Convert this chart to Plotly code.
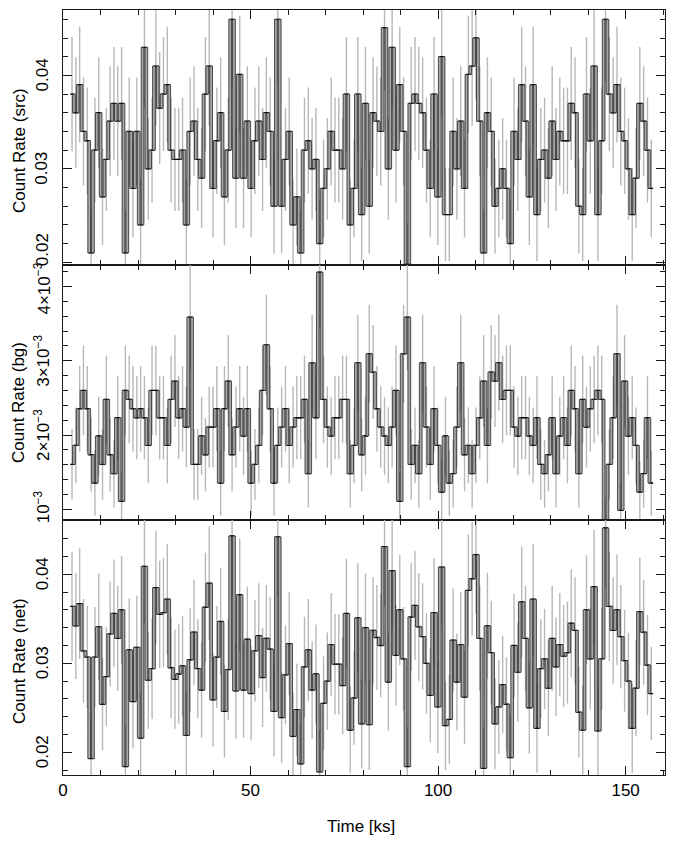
import numpy as np
import plotly.graph_objects as go
from plotly.subplots import make_subplots

# ---------------- data ----------------
t_start = 1.9        # ks, left edge of first bin
bin_width = 1.016    # ks
exposure = 1016.0    # s per bin
bg_area_scale = 7.0  # background extraction area / source area

src_rate = [
    0.0380, 0.0360, 0.0390, 0.0340, 0.0330, 0.0210, 0.0320, 0.0360, 0.0270, 0.0310,
    0.0351, 0.0370, 0.0351, 0.0370, 0.0210, 0.0340, 0.0279, 0.0340, 0.0240, 0.0430,
    0.0300, 0.0320, 0.0410, 0.0365, 0.0380, 0.0390, 0.0320, 0.0310, 0.0310, 0.0320,
    0.0240, 0.0340, 0.0351, 0.0310, 0.0290, 0.0380, 0.0410, 0.0279, 0.0330, 0.0360,
    0.0270, 0.0320, 0.0460, 0.0290, 0.0401, 0.0290, 0.0351, 0.0279, 0.0330, 0.0351,
    0.0310, 0.0360, 0.0340, 0.0260, 0.0460, 0.0260, 0.0310, 0.0340, 0.0240, 0.0270,
    0.0210, 0.0320, 0.0330, 0.0300, 0.0310, 0.0220, 0.0279, 0.0300, 0.0340, 0.0320,
    0.0320, 0.0300, 0.0380, 0.0240, 0.0279, 0.0380, 0.0251, 0.0370, 0.0260, 0.0360,
    0.0351, 0.0340, 0.0451, 0.0300, 0.0430, 0.0320, 0.0390, 0.0340, 0.0198, 0.0370,
    0.0380, 0.0370, 0.0360, 0.0320, 0.0279, 0.0380, 0.0270, 0.0420, 0.0251, 0.0251,
    0.0340, 0.0300, 0.0351, 0.0279, 0.0401, 0.0410, 0.0440, 0.0351, 0.0210, 0.0360,
    0.0340, 0.0260, 0.0279, 0.0300, 0.0279, 0.0220, 0.0340, 0.0310, 0.0390, 0.0351,
    0.0270, 0.0390, 0.0251, 0.0310, 0.0320, 0.0290, 0.0351, 0.0310, 0.0340, 0.0330,
    0.0330, 0.0370, 0.0360, 0.0260, 0.0251, 0.0380, 0.0330, 0.0410, 0.0251, 0.0330,
    0.0460, 0.0380, 0.0360, 0.0390, 0.0340, 0.0330, 0.0300, 0.0251, 0.0290, 0.0370,
    0.0351, 0.0320, 0.0279,
]

bg_rate_e3 = [  # background rate in units of 1e-3 counts/s
    1.605, 1.861, 2.354, 2.601, 2.354, 1.735, 1.354, 1.987, 1.605, 2.480,
    1.735, 1.480, 2.233, 1.108, 2.601, 2.480, 2.354, 2.233, 2.354, 2.233,
    1.861, 2.601, 2.601, 2.233, 2.233, 1.861, 2.480, 2.726, 2.233, 2.354,
    2.108, 3.587, 1.605, 1.605, 1.987, 1.735, 2.108, 2.108, 2.354, 1.354,
    2.354, 2.726, 1.735, 2.108, 2.354, 1.987, 2.354, 1.354, 1.605, 1.861,
    2.601, 3.215, 2.354, 1.354, 1.861, 2.108, 2.354, 1.861, 2.108, 2.233,
    2.233, 2.480, 1.480, 2.973, 2.233, 4.193, 2.480, 2.108, 1.987, 2.233,
    2.233, 2.480, 2.480, 1.480, 1.861, 2.973, 1.735, 1.987, 3.094, 2.848,
    2.354, 2.108, 1.987, 1.861, 2.108, 2.601, 1.108, 3.094, 3.587, 1.605,
    1.861, 1.480, 2.973, 2.108, 1.605, 2.354, 1.861, 1.233, 1.987, 1.354,
    1.480, 2.108, 2.973, 1.735, 1.861, 1.480, 1.861, 2.233, 2.726, 1.861,
    2.848, 2.726, 2.973, 2.480, 2.601, 2.601, 2.108, 1.987, 2.233, 2.233,
    1.987, 1.861, 2.233, 1.605, 1.480, 1.735, 2.233, 1.480, 1.987, 2.233,
    1.861, 2.601, 2.354, 1.480, 2.480, 2.108, 2.354, 2.480, 2.601, 2.480,
    0.820, 1.605, 2.233, 3.094, 0.987, 2.726, 1.987, 2.233, 1.861, 1.233,
    1.480, 2.233, 1.354,
]

net_rate = [
    0.0364, 0.0342, 0.0367, 0.0314, 0.0307, 0.0193, 0.0307, 0.0341, 0.0254, 0.0285,
    0.0333, 0.0356, 0.0328, 0.0360, 0.0184, 0.0315, 0.0257, 0.0318, 0.0216, 0.0409,
    0.0281, 0.0294, 0.0385, 0.0355, 0.0357, 0.0372, 0.0295, 0.0282, 0.0288, 0.0297,
    0.0219, 0.0304, 0.0335, 0.0294, 0.0270, 0.0363, 0.0390, 0.0259, 0.0307, 0.0347,
    0.0246, 0.0293, 0.0443, 0.0269, 0.0377, 0.0270, 0.0327, 0.0266, 0.0314, 0.0331,
    0.0284, 0.0328, 0.0316, 0.0246, 0.0442, 0.0239, 0.0287, 0.0322, 0.0218, 0.0248,
    0.0187, 0.0296, 0.0315, 0.0270, 0.0288, 0.0178, 0.0255, 0.0280, 0.0321, 0.0299,
    0.0299, 0.0275, 0.0356, 0.0225, 0.0261, 0.0351, 0.0232, 0.0340, 0.0231, 0.0337,
    0.0329, 0.0320, 0.0431, 0.0279, 0.0404, 0.0309, 0.0360, 0.0305, 0.0184, 0.0352,
    0.0365, 0.0341, 0.0330, 0.0300, 0.0264, 0.0357, 0.0251, 0.0408, 0.0230, 0.0237,
    0.0326, 0.0279, 0.0321, 0.0262, 0.0382, 0.0395, 0.0422, 0.0328, 0.0182, 0.0342,
    0.0312, 0.0232, 0.0251, 0.0276, 0.0254, 0.0194, 0.0320, 0.0290, 0.0369, 0.0328,
    0.0250, 0.0372, 0.0227, 0.0294, 0.0305, 0.0272, 0.0328, 0.0296, 0.0321, 0.0308,
    0.0312, 0.0345, 0.0337, 0.0245, 0.0225, 0.0360, 0.0305, 0.0386, 0.0224, 0.0305,
    0.0452, 0.0364, 0.0337, 0.0360, 0.0330, 0.0303, 0.0280, 0.0227, 0.0272, 0.0358,
    0.0335, 0.0298, 0.0266,
]

src = np.array(src_rate)
bg = np.array(bg_rate_e3) * 1e-3
net = np.array(net_rate)

# Poisson uncertainties of the binned rates
src_err = np.sqrt(src * exposure) / exposure
bg_err = np.sqrt(bg * exposure * bg_area_scale) / (exposure * bg_area_scale)
net_err = np.sqrt(src_err ** 2 + bg_err ** 2)

n = len(src)
edges = t_start + bin_width * np.arange(n + 1)
centers = t_start + bin_width * (np.arange(n) + 0.5)
box_w = 0.72 * bin_width

FONT = "Liberation Sans, Arial, Helvetica, sans-serif"
AX = "#1a1a1a"

fig = make_subplots(rows=3, cols=1, shared_xaxes=True, vertical_spacing=0)


def add_panel(row, vals, errs):
    fig.add_trace(go.Scatter(
        x=centers, y=vals, mode="markers",
        marker=dict(size=1, color="rgba(0,0,0,0)"),
        error_y=dict(type="data", array=errs, color="#b8b8b8", thickness=1.4, width=0),
        hoverinfo="skip"), row=row, col=1)
    bx, by = [], []
    for i in range(1, n):
        lo, hi = min(vals[i - 1], vals[i]), max(vals[i - 1], vals[i])
        xl, xr = edges[i] - box_w / 2, edges[i] + box_w / 2
        bx += [xl, xr, xr, xl, xl, None]
        by += [lo, lo, hi, hi, lo, None]
    fig.add_trace(go.Scatter(
        x=edges, y=np.append(vals, vals[-1]), mode="lines",
        line=dict(shape="hv", color="black", width=1.3),
        hoverinfo="skip"), row=row, col=1)
    # boxes over the step's vertical edges (grey interior, black outline)
    fig.add_trace(go.Scatter(
        x=bx, y=by, mode="lines", fill="toself", fillcolor="#a8a8a8",
        line=dict(color="#111111", width=0.7), hoverinfo="skip"), row=row, col=1)


add_panel(1, src, src_err)
add_panel(2, bg, bg_err)
add_panel(3, net, net_err)

axis_common = dict(
    showline=True, linecolor=AX, linewidth=1.1, mirror="allticks",
    ticks="inside", ticklen=9, tickwidth=1.1, tickcolor=AX,
    showgrid=False, zeroline=False,
)
minor_common = dict(ticklen=5, ticks="inside", tickcolor=AX, tickwidth=1.1)
for r in (1, 2, 3):
    fig.update_xaxes(range=[0, 160.5], tick0=0, dtick=50,
                     minor=dict(dtick=10, **minor_common),
                     showticklabels=(r == 3),
                     tickfont=dict(family=FONT, size=17, color="black"),
                     row=r, col=1, **axis_common)

fig.update_yaxes(range=[0.0197, 0.0470], tick0=0, dtick=0.01, showticklabels=False,
                 minor=dict(dtick=0.002, **minor_common), row=1, col=1, **axis_common)
fig.update_yaxes(range=[0.856e-3, 4.29e-3], tick0=0, dtick=1e-3, showticklabels=False,
                 minor=dict(dtick=2e-4, **minor_common), row=2, col=1, **axis_common)
fig.update_yaxes(range=[0.01745, 0.0461], tick0=0, dtick=0.01, showticklabels=False,
                 minor=dict(dtick=0.002, **minor_common), row=3, col=1, **axis_common)

# y tick labels (rotated) and axis titles
ytick_labels = [
    ("y", [(0.02, "0.02", 12), (0.03, "0.03", 0), (0.04, "0.04", 0)]),
    ("y2", [(1e-3, "10<sup>−3</sup>", 2), (2e-3, "2×10<sup>−3</sup>", 0),
            (3e-3, "3×10<sup>−3</sup>", 0), (4e-3, "4×10<sup>−3</sup>", -2)]),
    ("y3", [(0.02, "0.02", 0), (0.03, "0.03", 0), (0.04, "0.04", 0)]),
]
annotations = []
for yref, items in ytick_labels:
    for val, txt, ysh in items:
        annotations.append(dict(
            xref="paper", x=0, xshift=-21, xanchor="center",
            yref=yref, y=val, yshift=ysh, yanchor="middle",
            text=txt, textangle=-90, showarrow=False,
            font=dict(family=FONT, size=17, color="black")))

titles = [("Count Rate (src)", 151), ("Count Rate (bg)", 403), ("Count Rate (net)", 661)]
for txt, py in titles:
    annotations.append(dict(
        xref="paper", x=0, xshift=-44, xanchor="center",
        yref="paper", y=(775 - py) / 765, yanchor="middle",
        text=txt, textangle=-90, showarrow=False,
        font=dict(family=FONT, size=17, color="black")))

annotations.append(dict(
    xref="paper", x=(361 - 63) / 602, xanchor="center",
    yref="paper", y=0, yshift=-51, yanchor="middle",
    text="Time [ks]", showarrow=False,
    font=dict(family=FONT, size=17, color="black")))

# the page body adds an 8 px margin, so the figure is 8 px smaller than the window
fig.update_layout(
    width=668, height=837,
    margin=dict(l=55, r=11, t=2, b=70),
    plot_bgcolor="white", paper_bgcolor="white",
    showlegend=False,
    annotations=annotations,
    font=dict(family=FONT, size=17, color="black"),
)

fig.write_html("out.html")
